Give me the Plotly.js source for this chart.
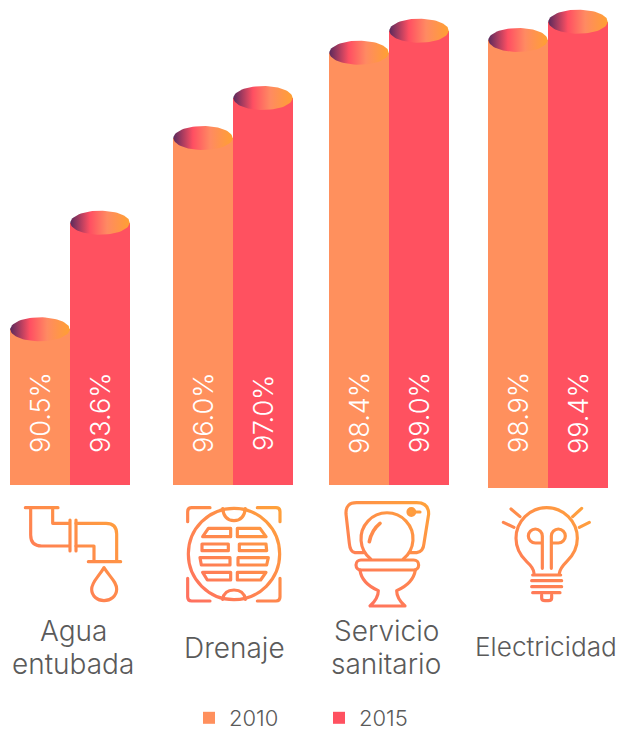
<!DOCTYPE html>
<html>
<head>
<meta charset="utf-8">
<script src="https://cdn.plot.ly/plotly-3.0.1.min.js"></script>
<style>html,body{margin:0;padding:0;background:#fff}#c{width:620px;height:731px}</style>
</head>
<body>
<div id="c"></div>
<script>
// ---- data ----
const seriesNames = ['2010', '2015'];
const categories = ['Agua<br>entubada', 'Drenaje', 'Servicio<br>sanitario', 'Electricidad'];
const values2010 = [90.5, 96.0, 98.4, 98.9];
const values2015 = [93.6, 97.0, 99.0, 99.4];

// ---- layout of the four bar groups, in page pixels ----
const W = 620, H = 731, PH = H;
const py = p => (PH - p) / PH;   // page pixel row -> paper fraction
const groupLeft = [10, 173, 329, 488];
const baselinePx = [485, 485, 485, 488];
const top2010Px = [329.3, 138, 52.7, 40];
const top2015Px = [222.7, 98, 30.7, 21.7];
const barPx = 60;
const capHalfPx = 12;
const labelCenterPy = 413;
const catLabelX = [73, 234, 386, 546];
const catLabelBaseY = [640, 657, 640, 655];
const catLineStep = 32.7;
const catLabelSize = [28, 28, 28, 26.2];

const FONT = 'Inter, "Open Sans", sans-serif';
const colors = ['#FF905D', '#FF5160'];
const capScale = [[0, '#5A2A5C'], [0.33, '#FF4F62'], [0.62, '#FF8A62'], [1, '#FFA032']];

function capTrace(cx, v, unitsPerPx, ax) {
  const xs = [], ys = [];
  for (let i = 0; i <= 72; i++) {
    const t = i / 72 * 2 * Math.PI;
    xs.push(cx + 0.495 * Math.cos(t));
    ys.push(v + capHalfPx * unitsPerPx * Math.sin(t));
  }
  return {type: 'scatter', mode: 'lines', x: xs, y: ys, xaxis: ax.x, yaxis: ax.y,
    line: {width: 0, color: 'rgba(0,0,0,0)'}, fill: 'toself', hoverinfo: 'skip', showlegend: false,
    cliponaxis: false,
    fillgradient: {type: 'horizontal', colorscale: capScale}};
}

const traces = [], annotations = [];
const layout = {
  width: W, height: H, margin: {l: 0, r: 0, t: 0, b: 0, pad: 0, autoexpand: false}, autosize: false,
  paper_bgcolor: '#fff', plot_bgcolor: 'rgba(0,0,0,0)',
  bargap: 0, barmode: 'group', bargroupgap: 0, font: {family: FONT},
  showlegend: true,
  legend: {orientation: 'h', x: 189 / W, y: py(718), xanchor: 'left', yanchor: 'middle',
    entrywidth: 85, entrywidthmode: 'pixels', itemwidth: 30, bgcolor: 'rgba(0,0,0,0)',
    font: {family: FONT, size: 22, color: '#5A5A5A', weight: 300}, traceorder: 'normal', itemclick: false},
  annotations: annotations
};

categories.forEach((cat, g) => {
  const sfx = g === 0 ? '' : String(g + 1);
  const ax = {x: 'x' + sfx, y: 'y' + sfx};
  const v1 = values2010[g], v2 = values2015[g];
  const unitsPerPx = (v2 - v1) / (top2010Px[g] - top2015Px[g]);
  const low = v1 - (baselinePx[g] - top2010Px[g]) * unitsPerPx;
  const high = v1 + top2010Px[g] * unitsPerPx;
  layout['xaxis' + sfx] = {domain: [groupLeft[g] / W, (groupLeft[g] + 2 * barPx) / W], range: [-0.5, 1.5],
    visible: false, fixedrange: true, anchor: ax.y};
  layout['yaxis' + sfx] = {domain: [py(baselinePx[g]), 1], range: [low, high],
    visible: false, fixedrange: true, anchor: ax.x};
  [v1, v2].forEach((v, s) => {
    traces.push({type: 'bar', x: [s], y: [v], width: [1], xaxis: ax.x, yaxis: ax.y, name: seriesNames[s],
      marker: {color: colors[s], line: {width: 0}}, showlegend: g === 0, hoverinfo: 'skip'});
  });
  [v1, v2].forEach((v, s) => {
    traces.push(capTrace(s, v, unitsPerPx, ax));
    annotations.push({x: s, xref: ax.x, y: py(labelCenterPy), yref: 'paper', text: v.toFixed(1) + '%',
      textangle: -90, showarrow: false, xanchor: 'center', yanchor: 'middle',
      font: {family: FONT, size: 27, color: '#FFFFFF', weight: 300}});
  });
  cat.split('<br>').forEach((line, i) => {
    const size = catLabelSize[g];
    const center = catLabelBaseY[g] + i * catLineStep - 0.32 * size;
    annotations.push({x: catLabelX[g] / W, xref: 'paper', y: py(center), yref: 'paper', text: line,
      showarrow: false, xanchor: 'center', yanchor: 'middle', align: 'center',
      font: {family: FONT, size: size, color: '#5A5A5A', weight: 300}});
  });
});

// ---- icons (decorative line art, in a 3x grid) ----
function grad(id, x1, y1, x2, y2) {
  return `<linearGradient id="${id}" gradientUnits="userSpaceOnUse" x1="${x1}" y1="${y1}" x2="${x2}" y2="${y2}"><stop offset="0" stop-color="#FF6F60"/><stop offset="1" stop-color="#FFA23A"/></linearGradient>`;
}
function svgUri(body, defs) {
  const s = `<svg xmlns="http://www.w3.org/2000/svg" width="310" height="241" viewBox="0 0 930 723"><defs>${defs}</defs>${body}</svg>`;
  return 'data:image/svg+xml;charset=utf-8,' + encodeURIComponent(s);
}
const common = 'fill="none" stroke-width="9.5" stroke-linecap="round" stroke-linejoin="round"';
const leftIcons =
 `<g ${common} stroke="url(#a)">
   <path d="M76 53H174M92 53V135Q92 168 125 168H208M158 53V100H208M210 90V183M228 90V183"/>
   <path d="M228 100H318Q350 100 350 132V215M228 168H282V215M265 215H362"/>
   <path d="M312 233C295 262 275 275 275 298C275 318 292 332 312 332C332 332 350 318 350 298C350 275 330 262 312 233Z"/>
 </g>
 <g ${common} stroke="url(#b)">
   <path d="M630 53H575Q563 53 563 65V95M772 53H828Q840 53 840 65V95M563 265V321Q563 333 575 333H630M840 265V321Q840 333 828 333H772"/>
   <circle cx="702" cy="192" r="137"/>
   <path d="M668 56Q672 92 702 92Q732 92 736 56M668 328Q672 300 702 300Q732 300 736 328"/>
   <path d="M625 115H692V140H608ZM712 115H780L798 140H712ZM606 162H685V182H606ZM718 162H798L800 182H718ZM600 203H690V225H604ZM714 203H805L800 225H714ZM608 247H692V270H622ZM712 247H798L782 270H712Z"/>
 </g>`;
const rightIcons =
 `<g ${common} stroke="url(#c)">
   <path d="M160 188H135Q120 185 118 160L108 72Q106 38 140 38H320Q356 38 356 72L342 160Q340 185 320 188H300"/>
   <path d="M182 207A78 78 0 1 1 280 207"/>
   <path d="M178 155Q185 120 210 100" stroke-width="11"/>
   <circle cx="304" cy="66" r="10" fill="#FFA03C"/><path d="M312 66H330"/>
   <rect x="138" y="210" width="188" height="30" rx="15"/>
   <path d="M150 240Q155 280 205 302Q205 325 180 348H285Q260 325 260 302Q310 280 316 240"/>
 </g>
 <g ${common} stroke="url(#d)">
   <path d="M672 250Q672 235 650 215Q618 185 618 145A92 92 0 1 1 802 145Q802 185 770 215Q750 235 748 250"/>
   <path d="M697 235V138A21 21 0 1 0 676 159H697M724 235V138A21 21 0 1 1 745 159H724"/>
   <path d="M668 255H752M665 272H755M665 290H755M668 308H750M695 315V325Q695 332 705 332H715Q725 332 725 325V315"/>
   <path d="M603 57L630 80M580 97L612 112M815 55L788 80M838 97L808 112"/>
 </g>`;
layout.images = [
  {source: svgUri(leftIcons, grad('a', 80, 330, 360, 50) + grad('b', 560, 335, 845, 50)),
    xref: 'paper', yref: 'paper', x: 0, y: py(490), sizex: 310 / W, sizey: 241 / PH,
    xanchor: 'left', yanchor: 'top', sizing: 'stretch', layer: 'above'},
  {source: svgUri(rightIcons, grad('c', 130, 350, 355, 35) + grad('d', 580, 335, 840, 55)),
    xref: 'paper', yref: 'paper', x: 310 / W, y: py(490), sizex: 310 / W, sizey: 241 / PH,
    xanchor: 'left', yanchor: 'top', sizing: 'stretch', layer: 'above'}
];

Plotly.newPlot('c', traces, layout, {displayModeBar: false, staticPlot: true});
</script>
</body>
</html>
